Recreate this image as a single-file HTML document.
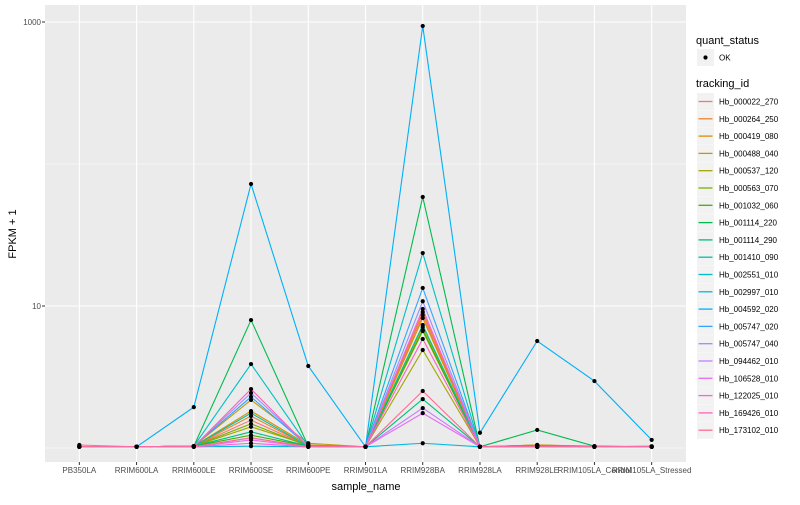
<!DOCTYPE html>
<html><head><meta charset="utf-8"><style>
body{margin:0;background:#fff;font-family:"Liberation Sans",sans-serif}
svg text{font-family:"Liberation Sans",sans-serif}
</style></head><body>
<svg id="c" width="800" height="500" xmlns="http://www.w3.org/2000/svg"></svg>
<script>
const categories=["PB350LA","RRIM600LA","RRIM600LE","RRIM600SE","RRIM600PE","RRIM901LA","RRIM928BA","RRIM928LA","RRIM928LE","RRIM105LA_Control","RRIM105LA_Stressed"];
const seriesNames=["Hb_000022_270","Hb_000264_250","Hb_000419_080","Hb_000488_040","Hb_000537_120","Hb_000563_070","Hb_001032_060","Hb_001114_220","Hb_001114_290","Hb_001410_090","Hb_002551_010","Hb_002997_010","Hb_004592_020","Hb_005747_020","Hb_005747_040","Hb_094462_010","Hb_106528_010","Hb_122025_010","Hb_169426_010","Hb_173102_010"];
const seriesColors=["#F8766D","#EA8331","#D89000","#C09B00","#A3A500","#7CAE00","#39B600","#00BB4E","#00BF7D","#00C1A3","#00BFC4","#00BAE0","#00B0F6","#35A2FF","#9590FF","#C77CFF","#E76BF3","#FA62DB","#FF62BC","#FF6C91"];
const s00=[1.05,1.02,1.03,1.57,1.03,1.02,8.64,1.02,1.03,1.02,1.02];
const s01=[1.02,1.02,1.03,1.68,1.03,1.02,9.07,1.02,1.02,1.02,1.02];
const s02=[1.02,1.02,1.03,1.82,1.05,1.02,8.23,1.02,1.05,1.03,1.02];
const s03=[1.02,1.02,1.03,2.18,1.08,1.02,7.11,1.02,1.05,1.03,1.02];
const s04=[1.02,1.02,1.03,1.41,1.05,1.02,4.90,1.02,1.05,1.02,1.02];
const s05=[1.02,1.02,1.03,1.48,1.03,1.02,6.67,1.02,1.03,1.02,1.02];
const s06=[1.02,1.02,1.03,1.23,1.03,1.02,6.78,1.02,1.03,1.02,1.02];
const s07=[1.02,1.02,1.03,7.96,1.03,1.02,58.6,1.02,1.34,1.03,1.02];
const s08=[1.02,1.02,1.03,1.30,1.03,1.02,2.21,1.02,1.02,1.02,1.02];
const s09=[1.02,1.02,1.03,1.76,1.03,1.02,7.35,1.02,1.02,1.02,1.02];
const s10=[1.02,1.02,1.03,3.90,1.03,1.02,23.6,1.02,1.02,1.02,1.03];
const s11=[1.02,1.02,1.02,1.03,1.02,1.02,1.08,1.02,1.02,1.02,1.02];
const s12=[1.02,1.02,1.94,72.3,3.78,1.02,937,1.28,5.67,2.96,1.14];
const s13=[1.02,1.02,1.03,2.29,1.03,1.02,13.4,1.02,1.02,1.02,1.02];
const s14=[1.02,1.02,1.03,2.44,1.03,1.02,10.8,1.02,1.02,1.02,1.02];
const s15=[1.02,1.02,1.02,1.18,1.02,1.02,1.91,1.02,1.02,1.02,1.02];
const s16=[1.02,1.02,1.02,1.14,1.02,1.02,1.76,1.02,1.02,1.02,1.02];
const s17=[1.02,1.02,1.02,1.08,1.02,1.02,9.53,1.02,1.02,1.02,1.02];
const s18=[1.02,1.02,1.02,2.60,1.02,1.02,5.86,1.02,1.02,1.02,1.02];
const s19=[1.02,1.02,1.02,1.18,1.02,1.02,2.52,1.02,1.02,1.02,1.02];
const seriesValues=[s00,s01,s02,s03,s04,s05,s06,s07,s08,s09,s10,s11,s12,s13,s14,s15,s16,s17,s18,s19];
const yTicks=[10,1000];
const yMinor=[1,100];

const NS="http://www.w3.org/2000/svg";
const svg=document.getElementById('c');
function el(t,a,p){const e=document.createElementNS(NS,t);for(const k in a)e.setAttribute(k,a[k]);(p||svg).appendChild(e);return e;}
const PX0=45,PX1=686,PY0=5,PY1=462;
const step=(PX1-PX0)/(categories.length-1+1.2);
function xS(i){return PX0+0.6*step+i*step;}
function yS(v){return 448-142*Math.log10(v);}

const panel=el('rect',{x:PX0,y:PY0,width:PX1-PX0,height:PY1-PY0,fill:'#EBEBEB'});


yMinor.forEach(v=>{const l=el('line',{x1:PX0,x2:PX1,y1:yS(v),y2:yS(v),stroke:'#fff','stroke-width':0.5});

});
yTicks.forEach(v=>{const l=el('line',{x1:PX0,x2:PX1,y1:yS(v),y2:yS(v),stroke:'#fff','stroke-width':1.1});


const t=el('text',{x:PX0-4,y:yS(v)+3,'text-anchor':'end','font-size':8,fill:'#4D4D4D'});t.textContent=v;


el('line',{x1:PX0-3,x2:PX0,y1:yS(v),y2:yS(v),stroke:'#333','stroke-width':1});});
categories.forEach((c,i)=>{const l=el('line',{x1:xS(i),x2:xS(i),y1:PY0,y2:PY1,stroke:'#fff','stroke-width':1.1});


el('line',{x1:xS(i),x2:xS(i),y1:PY1,y2:PY1+3,stroke:'#333','stroke-width':1});
const t=el('text',{x:xS(i),y:PY1+11,'text-anchor':'middle','font-size':8,fill:'#4D4D4D'});t.textContent=c;

});
seriesValues.forEach((vals,s)=>{const g=el('g',{});


const p=el('polyline',{points:vals.map((v,i)=>xS(i)+','+yS(v)).join(' '),fill:'none',stroke:seriesColors[s],'stroke-width':1.1},g);

});
seriesValues.forEach((vals,s)=>{vals.forEach((v,i)=>{const c=el('circle',{cx:xS(i),cy:yS(v),r:2.1,fill:'#000'});

});});
let t=el('text',{x:366,y:490,'text-anchor':'middle','font-size':11,fill:'#000'});t.textContent='sample_name';


t=el('text',{x:16,y:234,'text-anchor':'middle','font-size':11,fill:'#000',transform:'rotate(-90 16 234)'});t.textContent='FPKM + 1';


t=el('text',{x:696,y:44,'font-size':11,fill:'#000'});t.textContent='quant_status';


el('rect',{x:697,y:49,width:17,height:17,fill:'#F2F2F2'});
el('circle',{cx:705.5,cy:57.5,r:2.1,fill:'#000'});
t=el('text',{x:719,y:60.5,'font-size':8,fill:'#000'});t.textContent='OK';


t=el('text',{x:696,y:87,'font-size':11,fill:'#000'});t.textContent='tracking_id';


seriesNames.forEach((n,s)=>{const y=93+s*17.3;const g=el('g',{});


el('rect',{x:697,y:y,width:17,height:17,fill:'#F2F2F2'},g);
el('line',{x1:698.5,x2:712.5,y1:y+8.5,y2:y+8.5,stroke:seriesColors[s],'stroke-width':1.3},g);
const tt=el('text',{x:719,y:y+11.5,'font-size':8,fill:'#000'},g);tt.textContent=n;});
</script>
</body></html>
